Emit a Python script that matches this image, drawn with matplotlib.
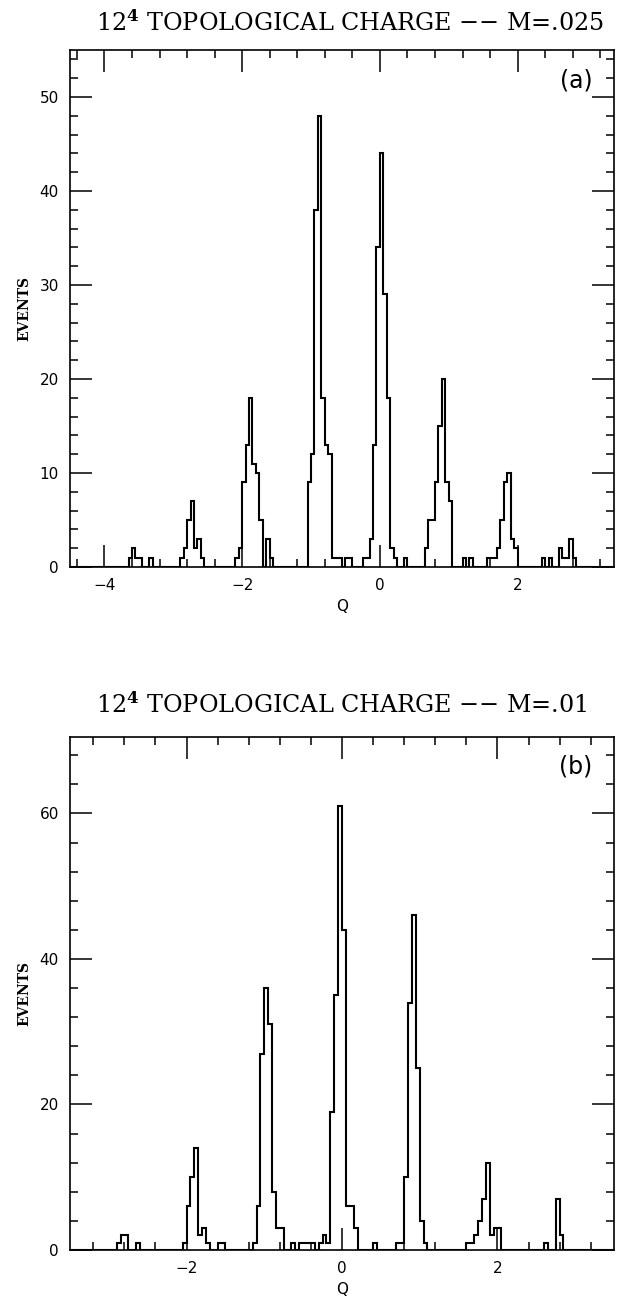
import numpy as np
import matplotlib
matplotlib.use("Agg")
import matplotlib.pyplot as plt
from matplotlib.ticker import MultipleLocator

# --- datos (histogramas de carga topologica) ---
BIN = 0.05

# (a) M=.025 : borde izquierdo de cada bin no vacio y su numero de eventos
q_a = [-3.65, -3.60, -3.55, -3.50, -3.35,
       -2.90, -2.85, -2.80, -2.75, -2.70, -2.65, -2.60,
       -2.10, -2.05, -2.00, -1.95, -1.90, -1.85, -1.80, -1.75, -1.65, -1.60,
       -1.05, -1.00, -0.95, -0.90, -0.85, -0.80, -0.75, -0.70, -0.65, -0.60,
       -0.50, -0.45,
       -0.25, -0.20, -0.15, -0.10, -0.05, 0.00, 0.05, 0.10, 0.15, 0.20, 0.35,
       0.65, 0.70, 0.75, 0.80, 0.85, 0.90, 0.95, 1.00,
       1.20, 1.30, 1.55, 1.60,
       1.65, 1.70, 1.75, 1.80, 1.85, 1.90, 1.95,
       2.35, 2.45, 2.60, 2.65, 2.70, 2.75, 2.80]
n_a = [1, 2, 1, 1, 1,
       1, 2, 5, 7, 2, 3, 1,
       1, 2, 9, 13, 18, 11, 10, 5, 3, 1,
       9, 12, 38, 48, 18, 13, 12, 1, 1, 1,
       1, 1,
       1, 1, 3, 13, 34, 44, 29, 18, 2, 1, 1,
       2, 5, 5, 9, 15, 20, 9, 7,
       1, 1, 1, 1,
       1, 2, 5, 9, 10, 3, 2,
       1, 1, 2, 1, 1, 3, 1]

# (b) M=.01
q_b = [-2.90, -2.85, -2.80, -2.65,
       -2.05, -2.00, -1.95, -1.90, -1.85, -1.80, -1.75, -1.60, -1.55,
       -1.15, -1.10, -1.05, -1.00, -0.95, -0.90, -0.85, -0.80,
       -0.65, -0.55, -0.50, -0.45, -0.40,
       -0.30, -0.25, -0.20, -0.15, -0.10, -0.05, 0.00, 0.05, 0.10, 0.15,
       0.40, 0.70, 0.75,
       0.80, 0.85, 0.90, 0.95, 1.00, 1.05,
       1.60, 1.65, 1.70, 1.75, 1.80, 1.85, 1.90, 1.95, 2.00,
       2.60, 2.75, 2.80]
n_b = [1, 2, 2, 1,
       1, 6, 10, 14, 2, 3, 1, 1, 1,
       1, 6, 27, 36, 31, 8, 3, 3,
       1, 1, 1, 1, 1,
       1, 2, 1, 19, 35, 61, 44, 6, 6, 3,
       1, 1, 1,
       10, 34, 46, 25, 4, 1,
       1, 1, 2, 4, 7, 12, 2, 3, 3,
       1, 7, 2]

XLIM_A = (-4.5, 3.4)
XLIM_B = (-3.5, 3.5)


def hist_arrays(q, n, lo, hi):
    edges = np.round(np.arange(lo, hi + BIN / 2, BIN), 4)
    vals = np.zeros(len(edges) - 1)
    for qq, nn in zip(q, n):
        k = int(round((qq - lo) / BIN))
        vals[k] = nn
    return edges, vals


def style_axes(ax, xlim, ylim, ymaj, ymin, tag):
    ax.set_xlim(*xlim)
    ax.set_ylim(*ylim)
    ax.xaxis.set_major_locator(MultipleLocator(2))
    ax.xaxis.set_minor_locator(MultipleLocator(0.4))
    ax.yaxis.set_major_locator(MultipleLocator(ymaj))
    ax.yaxis.set_minor_locator(MultipleLocator(ymin))
    ax.tick_params(which="both", direction="in", top=True, right=True,
                   width=1.1, labelsize=11, pad=8)
    ax.tick_params(which="major", length=16)
    ax.tick_params(which="minor", length=6)
    for s in ax.spines.values():
        s.set_linewidth(1.2)
    ax.set_xlabel("Q", fontsize=11, labelpad=4)
    ax.set_ylabel("EVENTS", fontsize=10, family="DejaVu Serif",
                  fontweight="bold", labelpad=6)
    ax.text(0.93, 0.965, tag, transform=ax.transAxes, ha="center", va="top",
            fontsize=17)


plt.rcParams["mathtext.fontset"] = "dejavuserif"
fig = plt.figure(figsize=(6.18, 13.07), dpi=100)

ax_a = fig.add_axes([70 / 618, (1307 - 567) / 1307, 544 / 618, 517 / 1307])
e, v = hist_arrays(q_a, n_a, *XLIM_A)
ax_a.stairs(v, e, color="black", lw=1.5)
style_axes(ax_a, XLIM_A, (0, 55), 10, 2, "(a)")

ax_b = fig.add_axes([70 / 618, (1307 - 1250) / 1307, 544 / 618, 513 / 1307])
e, v = hist_arrays(q_b, n_b, *XLIM_B)
ax_b.stairs(v, e, color="black", lw=1.5)
style_axes(ax_b, XLIM_B, (0, 70.5), 20, 4, "(b)")

fig.text(350 / 618, 1 - 23 / 1307,
         "12$^{\\mathbf{4}}$ TOPOLOGICAL CHARGE \u2212\u2212 M=.025",
         ha="center", va="center", fontsize=17.2, family="DejaVu Serif")
fig.text(342 / 618, 1 - 705 / 1307,
         "12$^{\\mathbf{4}}$ TOPOLOGICAL CHARGE \u2212\u2212 M=.01",
         ha="center", va="center", fontsize=17.2, family="DejaVu Serif")

fig.savefig("out.png", dpi=100)
